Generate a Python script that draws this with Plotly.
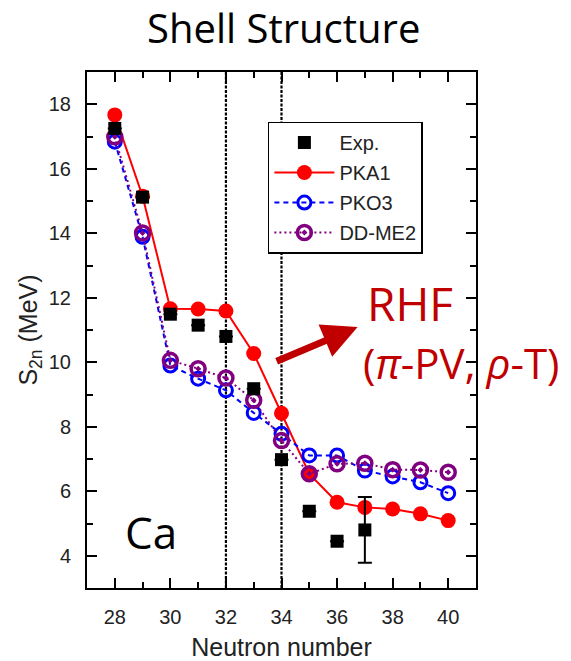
import plotly.graph_objects as go

N = [28, 29, 30, 31, 32, 33, 34, 35, 36, 37, 38, 39, 40]
exp_N = [28, 29, 30, 31, 32, 33, 34, 35, 36, 37]
exp_S = [17.25, 15.12, 11.49, 11.15, 10.80, 9.18, 6.98, 5.38, 4.45, 4.80]
exp_err = [0, 0, 0, 0, 0, 0, 0, 0, 0, 1.02]
pka1 = [17.67, 15.15, 11.66, 11.65, 11.59, 10.27, 8.42, 6.54, 5.66, 5.50, 5.45, 5.30, 5.09]
pko3 = [16.84, 13.89, 9.90, 9.49, 9.13, 8.43, 7.78, 7.11, 7.11, 6.64, 6.46, 6.28, 5.94]
ddme2 = [16.99, 14.01, 10.06, 9.80, 9.51, 8.82, 7.57, 6.54, 6.85, 6.87, 6.67, 6.66, 6.59]
shell_closures = [32, 34]

RED_TXT = "#C00000"
AX_FONT = "Arial, Liberation Sans, sans-serif"
HUM_FONT = "Open Sans, Lato, sans-serif"

fig = go.Figure()

fig.add_trace(go.Scatter(
    x=N, y=pka1, name="PKA1", mode="lines+markers", legendrank=2, legendgroup="b",
    line=dict(color="#FF0000", width=2),
    marker=dict(symbol="circle", size=15, color="#FF0000"),
))
fig.add_trace(go.Scatter(
    x=N, y=pko3, name="PKO3", mode="lines+markers", legendrank=3, legendgroup="c",
    line=dict(color="#0000FF", width=2, dash="5px,4px"),
    marker=dict(symbol="circle-open", size=13, color="#0000FF", line=dict(width=3, color="#0000FF")),
))
fig.add_trace(go.Scatter(
    x=N, y=ddme2, name="DD-ME2", mode="lines+markers", legendrank=4, legendgroup="d",
    line=dict(color="#800080", width=2, dash="2px,3px"),
    marker=dict(symbol="circle-open-dot", size=14, color="#800080", line=dict(width=3.5, color="#800080")),
))
fig.add_trace(go.Scatter(
    x=exp_N, y=exp_S, name="Exp.", mode="markers", legendrank=1, legendgroup="a",
    marker=dict(symbol="square", size=13, color="black"),
    error_y=dict(type="data", array=exp_err, visible=True, color="black", thickness=2, width=7),
))

for xc in shell_closures:
    fig.add_vline(x=xc, line=dict(color="black", width=2.2, dash="3px,1.5px"), layer="below")

axis_common = dict(
    showline=True, linecolor="black", linewidth=2, mirror="allticks",
    ticks="inside", ticklen=10, tickwidth=2, tickcolor="black",
    showgrid=False, zeroline=False, automargin=False,
    tickfont=dict(family=AX_FONT, size=20, color="#222"),
)

fig.update_xaxes(
    range=[27, 41], tickvals=[28, 30, 32, 34, 36, 38, 40],
    minor=dict(tickvals=[29, 31, 33, 35, 37, 39], ticks="inside", ticklen=6, tickwidth=2, tickcolor="black"),
    title=dict(text="Neutron number", font=dict(family=AX_FONT, size=25, color="#222"), standoff=16),
    ticklabelstandoff=10,
    **axis_common,
)
fig.update_yaxes(
    range=[3, 19], tickvals=[4, 6, 8, 10, 12, 14, 16, 18],
    minor=dict(tickvals=[5, 7, 9, 11, 13, 15, 17], ticks="inside", ticklen=6, tickwidth=2, tickcolor="black"),
    title=dict(text="S<sub>2n</sub> (MeV)", font=dict(family=AX_FONT, size=25, color="#222"), standoff=4),
    ticklabelstandoff=10,
    **axis_common,
)

fig.add_annotation(text="Shell Structure", xref="paper", yref="paper", x=0.506, y=1.087,
                   yanchor="middle", xanchor="center", showarrow=False,
                   font=dict(family=HUM_FONT, size=40, color="black"))
fig.add_annotation(text="Ca", xref="x", yref="y", x=29.3, y=4.75, showarrow=False,
                   font=dict(family=HUM_FONT, size=44, color="black"))
fig.add_annotation(text="RHF", xref="x", yref="y", x=38.62, y=11.85, showarrow=False,
                   font=dict(family=HUM_FONT, size=46, color=RED_TXT))
fig.add_annotation(text="(<i>π</i>-PV, <i>ρ</i>-T)", xref="x", yref="y", x=40.49, y=10.0,
                   showarrow=False, xanchor="center",
                   font=dict(family=HUM_FONT, size=42, color=RED_TXT))
fig.add_annotation(text=" ", xref="x", yref="y", x=36.74, y=11.09, ax=-83, ay=35,
                   showarrow=True, arrowhead=2, arrowsize=1.0, arrowwidth=7, arrowcolor=RED_TXT,
                   font=dict(size=2))

fig.update_layout(
    width=571, height=661,
    margin=dict(l=87, r=95, t=72, b=73),
    plot_bgcolor="white", paper_bgcolor="white",
    showlegend=True,
    legend=dict(
        x=0.465, y=0.904, xanchor="left", yanchor="top",
        bgcolor="white", bordercolor="black", borderwidth=1.5,
        font=dict(family=AX_FONT, size=20, color="#222"),
        itemwidth=60, tracegroupgap=1,
    ),
)

fig.write_html("out.html")
